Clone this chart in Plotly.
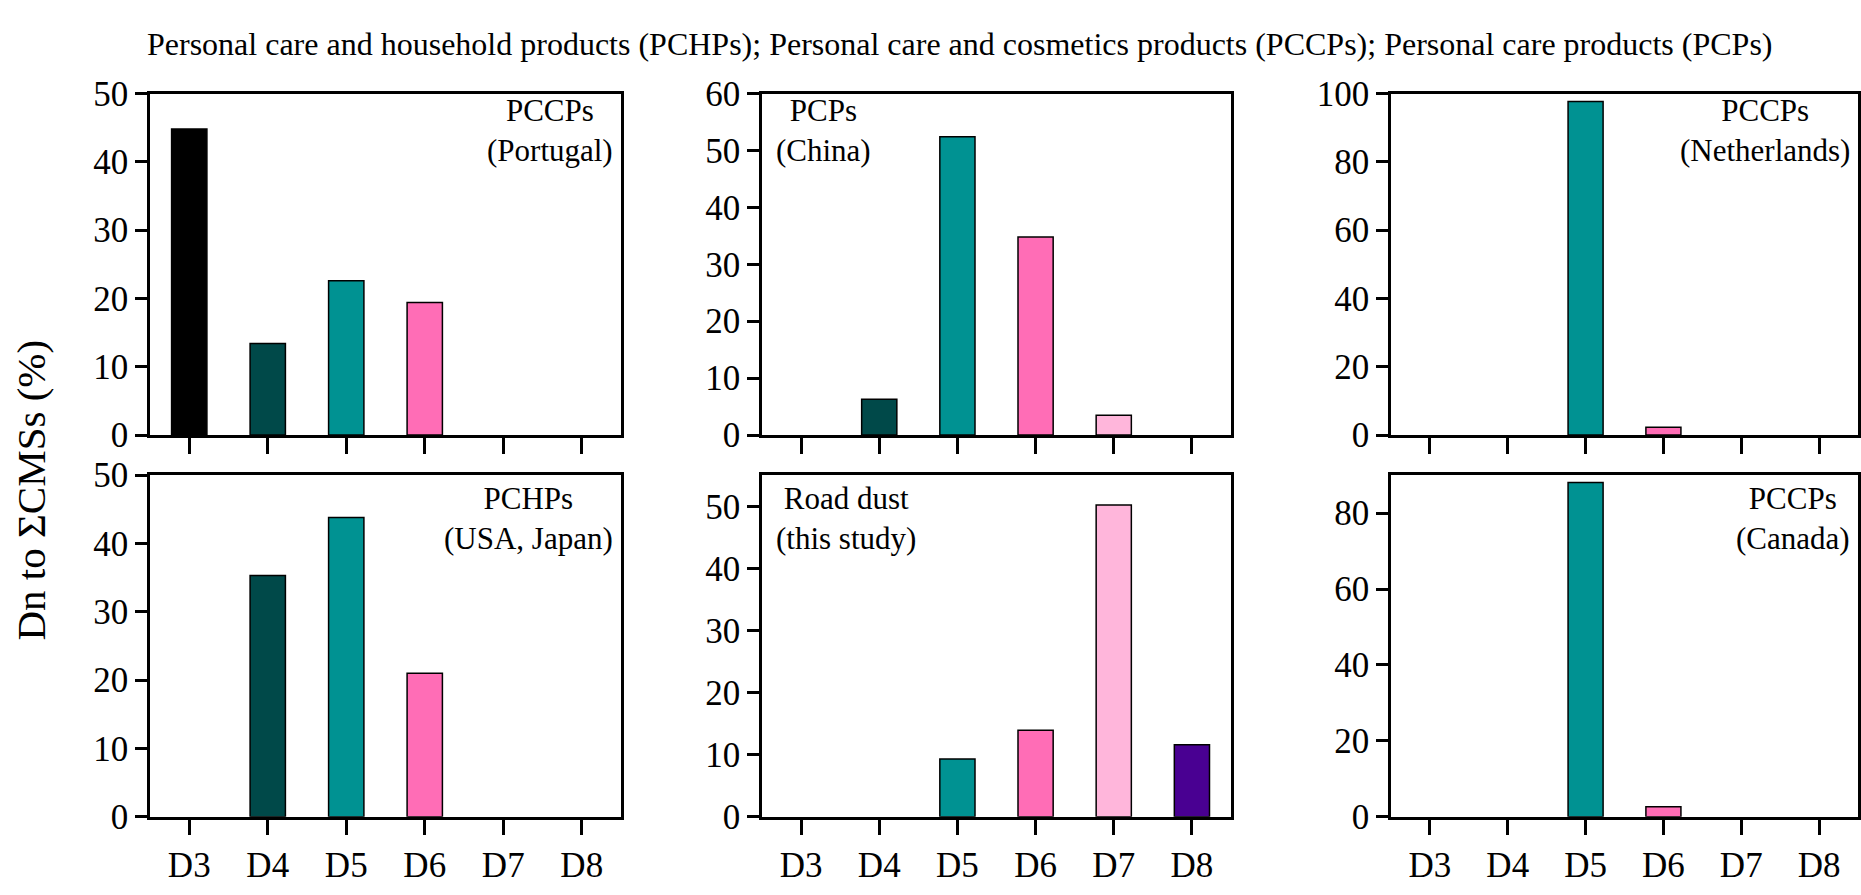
import plotly.graph_objects as go

# Siloxane homologues on the x axis and their colours
categories = ["D3", "D4", "D5", "D6", "D7", "D8"]
bar_colors = ["#000000", "#004949", "#009292", "#ff6db6", "#ffb6db", "#490092"]

# Contribution of each Dn to the total cyclic methylsiloxanes (%)
pccps_portugal = [44.8, 13.4, 22.6, 19.4, 0, 0]
pcps_china = [0, 6.3, 52.4, 34.8, 3.5, 0]
pccps_netherlands = [0, 0, 97.7, 2.3, 0, 0]
pchps_usa_japan = [0, 35.3, 43.8, 21.0, 0, 0]
road_dust = [0, 0, 9.3, 13.9, 50.2, 11.6]
pccps_canada = [0, 0, 88.1, 2.6, 0, 0]

panel_labels = [
    "PCCPs<br>(Portugal)", "PCPs<br>(China)", "PCCPs<br>(Netherlands)",
    "PCHPs<br>(USA, Japan)", "Road dust<br>(this study)", "PCCPs<br>(Canada)",
]
y_max = [50, 60, 100, 50, 55, 90]
y_step = [10, 10, 20, 10, 10, 20]

title_text = ("Personal care and household products (PCHPs); "
              "Personal care and cosmetics products (PCCPs); "
              "Personal care products (PCPs)")
y_title = "Dn to ΣCMSs (%)"

W, H = 1861, 895
FONT = "Liberation Serif, Times New Roman, serif"

# panel frames in pixels: (left, right) columns and (top, bottom) rows
cols = [(150, 621), (762, 1231), (1391, 1858)]
rows = [(78, 435), (477, 834)]

series = [pccps_portugal, pcps_china, pccps_netherlands,
          pchps_usa_japan, road_dust, pccps_canada]
label_side = ["right", "left", "right", "right", "left", "right"]

fig = go.Figure()
layout = dict(
    width=W, height=H, margin=dict(l=0, r=0, t=0, b=0),
    paper_bgcolor="white", plot_bgcolor="white", showlegend=False,
    font=dict(family=FONT, color="black"),
)
annotations = []

for i, vals in enumerate(series):
    r, c = divmod(i, 3)
    n = i + 1
    xa = "x" if n == 1 else f"x{n}"
    ya = "y" if n == 1 else f"y{n}"
    # empty homologues are left blank rather than drawn as flat outlines
    shown = [v if v > 0 else None for v in vals]
    fig.add_trace(go.Bar(
        x=categories, y=shown, xaxis=xa, yaxis=ya,
        marker=dict(color=bar_colors, line=dict(color="black", width=1.5)),
        width=0.45, hoverinfo="x+y",
    ))
    x0, x1 = cols[c]
    top, bot = rows[r]
    layout["xaxis" if n == 1 else f"xaxis{n}"] = dict(
        domain=[x0 / W, x1 / W], anchor=ya,
        range=[-0.5, 5.5], type="category",
        showline=True, mirror=True, linecolor="black", linewidth=2.5,
        ticks="outside", ticklen=16, tickwidth=2.5, tickcolor="black",
        showticklabels=(r == 1), tickfont=dict(family=FONT, size=35, color="black"),
        showgrid=False, zeroline=False, fixedrange=True,
    )
    layout["yaxis" if n == 1 else f"yaxis{n}"] = dict(
        domain=[1 - bot / H, 1 - top / H], anchor=xa,
        range=[0, y_max[i]], tick0=0, dtick=y_step[i],
        showline=True, mirror=True, linecolor="black", linewidth=2.5,
        ticks="outside", ticklen=12, tickwidth=2.5, tickcolor="black",
        tickfont=dict(family=FONT, size=35, color="black"),
        showgrid=False, zeroline=False, fixedrange=True,
    )
    ymid = 0.893 if r == 0 else 0.872
    if label_side[i] == "right":
        ax, anc = 0.988, "right"
    else:
        ax, anc = 0.025, "left"
    annotations.append(dict(
        text=panel_labels[i], xref=f"{xa} domain", yref=f"{ya} domain",
        x=ax, y=ymid, xanchor=anc, yanchor="middle", align="center",
        showarrow=False, font=dict(family=FONT, size=31, color="black"),
    ))

annotations.append(dict(
    text=title_text, xref="paper", yref="paper", x=960 / W, y=1 - 26 / H,
    xanchor="center", yanchor="middle", showarrow=False,
    font=dict(family=FONT, size=32, color="black"),
))
annotations.append(dict(
    text=y_title, xref="paper", yref="paper", x=31 / W, y=1 - 493 / H,
    xanchor="center", yanchor="middle", textangle=-90, showarrow=False,
    font=dict(family=FONT, size=41, color="black"),
))
layout["annotations"] = annotations
fig.update_layout(**layout)

fig.write_html("out.html", config={"displayModeBar": False})
